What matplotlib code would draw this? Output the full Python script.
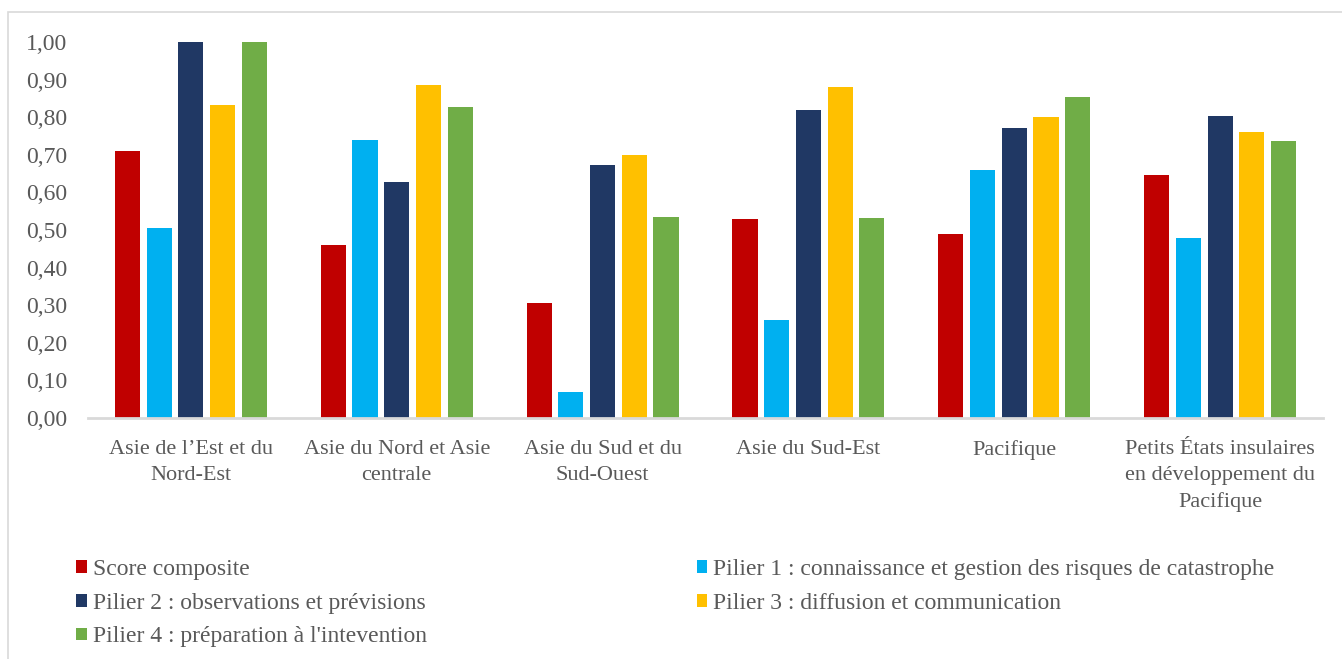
import matplotlib.pyplot as plt
import numpy as np
from matplotlib.patches import Rectangle

regions = ["Asie de l’Est et du\nNord-Est",
           "Asie du Nord et Asie\ncentrale",
           "Asie du Sud et du\nSud-Ouest",
           "Asie du Sud-Est",
           "Pacifique",
           "Petits États insulaires\nen développement du\nPacifique"]

score = [0.71, 0.46, 0.305, 0.53, 0.49, 0.645]
pilier1 = [0.505, 0.74, 0.07, 0.26, 0.66, 0.48]
pilier2 = [1.00, 0.627, 0.673, 0.82, 0.77, 0.803]
pilier3 = [0.833, 0.886, 0.70, 0.88, 0.80, 0.761]
pilier4 = [1.00, 0.827, 0.535, 0.533, 0.855, 0.737]

names = ["Score composite",
         "Pilier 1 : connaissance et gestion des risques de catastrophe",
         "Pilier 2 : observations et prévisions",
         "Pilier 3 : diffusion et communication",
         "Pilier 4 : préparation à l'intevention"]
colors = ["#C00000", "#00B0F0", "#203864", "#FFC000", "#70AD47"]

serif = ['Liberation Serif', 'DejaVu Serif']
plt.rcParams['font.family'] = serif
txt = '#595959'

fig = plt.figure(figsize=(13.42, 6.59), dpi=100)
ax = fig.add_axes([88 / 1342, 1 - 418 / 659, 1235 / 1342, 376 / 659])

series = [score, pilier1, pilier2, pilier3, pilier4]
x = np.arange(len(regions))
step = 0.154
bars = []
for i, (vals, c) in enumerate(zip(series, colors)):
    b = ax.bar(x + (i - 2) * step, vals, width=0.122, color=c, label=names[i])
    bars.append(b)

ax.set_xlim(-0.5, 5.5)
ax.set_ylim(0, 1.0)
ax.set_yticks(np.arange(0, 1.01, 0.1))
ax.set_yticklabels([f"{v:.2f}".replace('.', ',') for v in np.arange(0, 1.01, 0.1)])
ax.set_xticks(x)
ax.set_xticklabels(regions, linespacing=1.47)
ax.tick_params(axis='y', length=0, pad=15, labelsize=17, labelcolor=txt)
ax.tick_params(axis='x', length=0, pad=16, labelsize=16, labelcolor=txt)

for s in ['top', 'right', 'left']:
    ax.spines[s].set_visible(False)
ax.spines['bottom'].set_color('#d9d9d9')
ax.spines['bottom'].set_linewidth(2)

order = [0, 2, 4, 1, 3]
fig.legend([bars[i] for i in order], [names[i] for i in order],
           ncol=2, mode='expand', loc='upper left',
           bbox_to_anchor=(67 / 1342, 1 - 556 / 659, 1217 / 1342, 0.01),
           frameon=False, prop={'family': serif, 'size': 17}, labelcolor=txt,
           handlelength=0.45, handleheight=0.45, handletextpad=0.25,
           labelspacing=0.54, borderaxespad=0)

fig.patches.append(Rectangle((8 / 1342, -0.1), 1.2, 1 - 12 / 659 + 0.1,
                             transform=fig.transFigure, fill=False,
                             edgecolor='#d9d9d9', linewidth=1.2))

fig.savefig('out.png', dpi=100)
